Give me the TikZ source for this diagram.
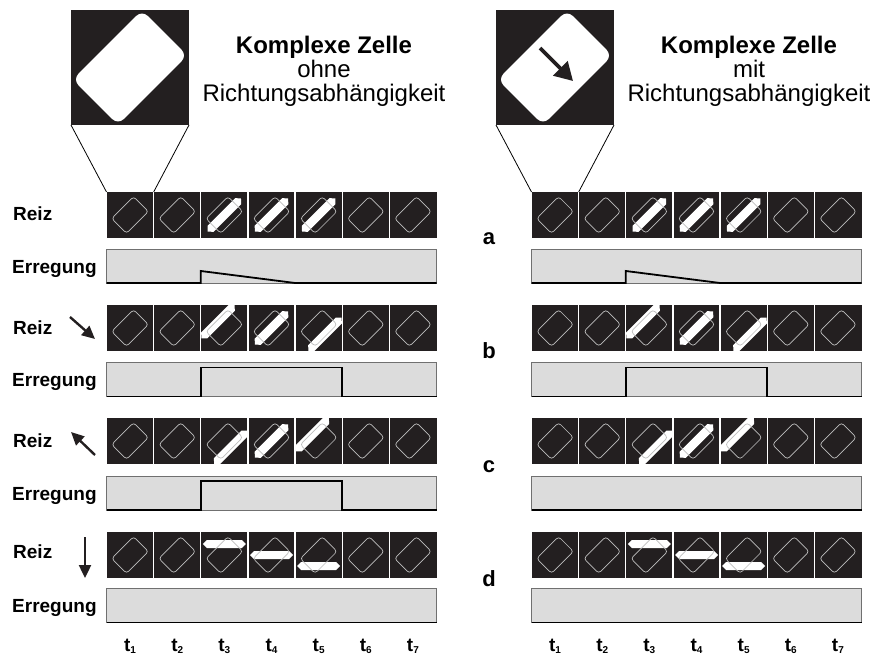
\documentclass[tikz,border=0pt]{standalone}
\usepackage{fontspec}
\setmainfont{Liberation Sans}
\usetikzlibrary{arrows.meta}
\definecolor{cellbg}{HTML}{231F20}
\definecolor{respfill}{HTML}{DCDCDC}
\definecolor{outl}{HTML}{BEBEBE}
\definecolor{boxedge}{HTML}{707070}
\newcommand\cw{47.142857}
\newcommand\diagstim[3]{%
  \begin{scope}[shift={(#1,#2)}, rotate=45]
    \fill[stim] (-23.5,#3) -- (-19.5,{#3-4.3}) -- (19.5,{#3-4.3}) -- (23.5,#3) -- (19.5,{#3+4.3}) -- (-19.5,{#3+4.3}) -- cycle;
  \end{scope}}
\newcommand\horstim[3]{%
  \begin{scope}[shift={(#1,#2)}]
    \fill[stim] (-21.5,#3) -- (-17.5,{#3-4}) -- (17.5,{#3-4}) -- (21.5,#3) -- (17.5,{#3+4}) -- (-17.5,{#3+4}) -- cycle;
  \end{scope}}
\newcommand\celloutline[2]{%
  \begin{scope}[shift={(#1,#2)}, rotate=45]
    \draw[celloutl] (-15.5,-10.5) rectangle (15.5,10.5);
  \end{scope}}
% #1 prefix, #2 x0, #3 top, #4 type (0 diagonal, 1 horizontal), #5-#7 offsets t3..t5
\newcommand\stimrow[7]{%
  \foreach \i in {1,...,7} {
    \pgfmathsetmacro\cx{#2+(\i-0.5)*\cw}
    \pgfmathsetmacro\cy{#3+23}
    \node[cellbox] (#1\i) at (\cx,\cy) {};
  }
  \foreach \i/\o in {3/#5,4/#6,5/#7} {
    \pgfmathsetmacro\cx{#2+(\i-0.5)*\cw}
    \pgfmathsetmacro\cy{#3+23}
    \begin{scope}
      \clip (#1\i.south west) rectangle (#1\i.north east);
      \ifnum#4=0 \diagstim{\cx}{\cy}{\o}\else\horstim{\cx}{\cy}{\o}\fi
    \end{scope}
  }
  \foreach \i in {1,...,7} {
    \pgfmathsetmacro\cx{#2+(\i-0.5)*\cw}
    \pgfmathsetmacro\cy{#3+23}
    \celloutline{\cx}{\cy}
  }
  \foreach \i in {1,...,6} {
    \draw[sepline] (#1\i.north east) -- (#1\i.south east);
  }
}
\begin{document}
\begin{tikzpicture}[x=1pt,y=-1pt,
  cellbox/.style={fill=cellbg, draw=none, minimum width=47.1429pt, minimum height=46pt, inner sep=0pt, outer sep=0pt},
  bigsq/.style={fill=cellbg, draw=none, minimum width=118pt, minimum height=115pt, inner sep=0pt, outer sep=0pt},
  respbox/.style={fill=respfill, draw=boxedge, line width=0.8pt, minimum width=330pt, minimum height=34pt, inner sep=0pt, outer sep=0pt},
  resp/.style={line width=1.8pt, black, line join=miter},
  celloutl/.style={draw=outl, line width=0.7pt, rounded corners=3pt},
  stim/.style={fill=white},
  sepline/.style={draw=white, line width=1.2pt},
  title/.style={font=\fontsize{24}{28}\selectfont, anchor=base, inner sep=0pt},
  titleb/.style={font=\bfseries\fontsize{24}{28}\selectfont, anchor=base, inner sep=0pt},
  lab/.style={font=\bfseries\fontsize{19}{22}\selectfont, anchor=base west, inner sep=0pt},
  letter/.style={font=\bfseries\fontsize{22}{26}\selectfont, anchor=base, inner sep=0pt},
  tlab/.style={font=\bfseries\fontsize{19}{22}\selectfont, anchor=base, inner sep=0pt},
  dirarrow/.style={line width=2.4pt, cellbg, -{Triangle[length=13pt,width=12pt]}},
  zoomline/.style={line width=0.8pt, black}
]
\useasboundingbox (0,0) rectangle (881,655);

% ---------- big squares ----------
\node[bigsq] (sqL) at (130,67.5) {};
\node[bigsq] (sqR) at (555,67.5) {};
\begin{scope}[shift={(130,67.5)}, rotate=45]
  \fill[white, rounded corners=8pt] (-49,-32) rectangle (49,32);
\end{scope}
\begin{scope}[shift={(555,67.5)}, rotate=45]
  \fill[white, rounded corners=8pt] (-49,-32) rectangle (49,32);
\end{scope}
\coordinate (bigA1) at (540,48);
\coordinate (bigA2) at (573,81);
\draw[line width=3.6pt, cellbg, -{Triangle[length=18pt,width=20pt]}] (bigA1) -- (bigA2);

% ---------- titles ----------
\node[titleb] (tl1) at (324,54) {Komplexe Zelle};
\node[title] (tl2) at (324,78) {ohne};
\node[title] (tl3) at (324,102) {Richtungsabhängigkeit};
\node[titleb] (tr1) at (749,54) {Komplexe Zelle};
\node[title] (tr2) at (749,78) {mit};
\node[title] (tr3) at (749,102) {Richtungsabhängigkeit};

% ---------- stimulus rows ----------
\stimrow{La}{106.5}{192}{0}{0}{0}{0}
\stimrow{Lb}{106.5}{305}{0}{-9}{0}{9}
\stimrow{Lc}{106.5}{418}{0}{9}{0}{-9}
\stimrow{Ld}{106.5}{532}{1}{-11}{0}{11}
\stimrow{Ra}{531.5}{192}{0}{0}{0}{0}
\stimrow{Rb}{531.5}{305}{0}{-9}{0}{9}
\stimrow{Rc}{531.5}{418}{0}{9}{0}{-9}
\stimrow{Rd}{531.5}{532}{1}{-11}{0}{11}

% zoom lines
\draw[zoomline] (sqL.south west) -- (La1.north west);
\draw[zoomline] (sqL.south east) -- (La1.north east);
\draw[zoomline] (sqR.south west) -- (Ra1.north west);
\draw[zoomline] (sqR.south east) -- (Ra1.north east);

% ---------- response boxes ----------
\node[respbox] (Lea) at (271.5,266) {};
\node[respbox] (Leb) at (271.5,379.5) {};
\node[respbox] (Lec) at (271.5,493) {};
\node[respbox] (Led) at (271.5,605.5) {};
\node[respbox] (Rea) at (696.5,266) {};
\node[respbox] (Reb) at (696.5,379.5) {};
\node[respbox] (Rec) at (696.5,493) {};
\node[respbox] (Red) at (696.5,605.5) {};

\draw[resp] (Lea.south west) -- (La3.south west |- Lea.south) -- ++(0,-12) -- (La5.south west |- Lea.south) -- (Lea.south east);
\draw[resp] (Leb.south west) -- (Lb3.south west |- Leb.south) -- ++(0,-29) -| (Lb5.south east |- Leb.south) -- (Leb.south east);
\draw[resp] (Lec.south west) -- (Lc3.south west |- Lec.south) -- ++(0,-29) -| (Lc5.south east |- Lec.south) -- (Lec.south east);
\draw[resp] (Led.south west) -- (Led.south east);
\draw[resp] (Rea.south west) -- (Ra3.south west |- Rea.south) -- ++(0,-12) -- (Ra5.south west |- Rea.south) -- (Rea.south east);
\draw[resp] (Reb.south west) -- (Rb3.south west |- Reb.south) -- ++(0,-29) -| (Rb5.south east |- Reb.south) -- (Reb.south east);
\draw[resp] (Rec.south west) -- (Rec.south east);
\draw[resp] (Red.south west) -- (Red.south east);

% ---------- row labels ----------
\node[lab] (reiza) at (13,221) {Reiz};
\node[lab] (erra) at (12,273) {Erregung};
\node[lab] (reizb) at (13,334) {Reiz};
\node[lab] (errb) at (12,386) {Erregung};
\node[lab] (reizc) at (13,447) {Reiz};
\node[lab] (errc) at (12,500) {Erregung};
\node[lab] (reizd) at (13,558) {Reiz};
\node[lab] (errd) at (12,612) {Erregung};

\coordinate (ab1) at (70,317);
\coordinate (ab2) at (95,339);
\coordinate (ac1) at (95,455);
\coordinate (ac2) at (71,432);
\coordinate (ad1) at (85,537);
\coordinate (ad2) at (85,578);
\draw[dirarrow] (ab1) -- (ab2);
\draw[dirarrow] (ac1) -- (ac2);
\draw[dirarrow] (ad1) -- (ad2);

% ---------- letters ----------
\node[letter] (la) at (489,245) {a};
\node[letter] (lb) at (489,358) {b};
\node[letter] (lc) at (489,472) {c};
\node[letter] (ld) at (489,586) {d};

% ---------- time labels ----------
\foreach \i in {1,...,7} {
  \node[tlab] (tL\i) at ({106.5+(\i-0.5)*\cw},651) {t\raisebox{-2.5pt}{\fontsize{10}{10}\selectfont\i}};
  \node[tlab] (tR\i) at ({531.5+(\i-0.5)*\cw},651) {t\raisebox{-2.5pt}{\fontsize{10}{10}\selectfont\i}};
}
\end{tikzpicture}
\end{document}
